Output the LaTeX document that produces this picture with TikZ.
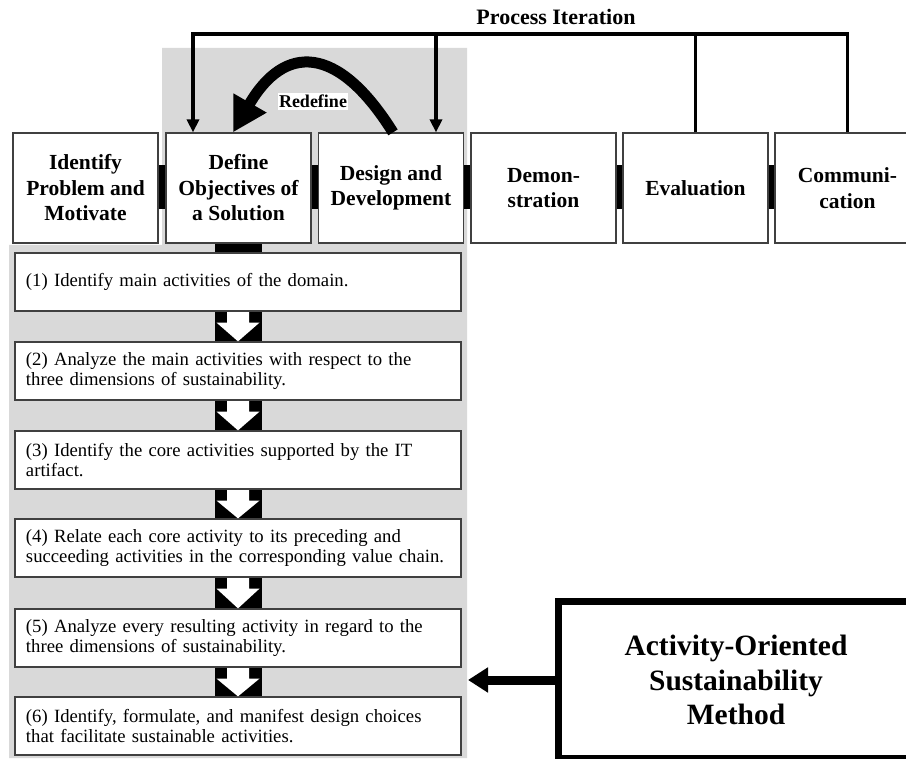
\documentclass[tikz,border=0pt]{standalone}
\usepackage{fontspec}
\setmainfont{Liberation Serif}
\usetikzlibrary{arrows.meta,calc}
\definecolor{bggray}{HTML}{D9D9D9}
\definecolor{edgegray}{HTML}{404040}
\begin{document}
\begin{tikzpicture}[x=1pt,y=-1pt,
  phase/.style={draw=edgegray, line width=1.2pt, fill=white, minimum width=145pt,
    minimum height=110pt, inner sep=0pt, align=center,
    font=\fontsize{21.5}{25.5}\selectfont\bfseries},
  stepbox/.style={draw=edgegray, line width=1.2pt, fill=white, minimum width=446pt,
    minimum height=58pt, inner xsep=11pt, inner ysep=0pt, text width=424pt,
    align=left, font=\fontsize{18.7}{20}\selectfont},
  iter/.style={line width=3.5pt},
  iterarrow/.style={iter, -{Triangle[length=13pt,width=12pt]}},
]
\useasboundingbox (0,0) rectangle (906,759);
\clip (0,0) rectangle (906,759);

% gray background region
\fill[bggray] (162,48) -- (467,48) -- (467,758) -- (9,758) -- (9,245) -- (162,245) -- cycle;

% phase boxes
\node[phase] (idp) at (85.5,188) {Identify\\Problem and\\Motivate};
\node[phase] (def) at (238.5,188) {Define\\Objectives of\\a Solution};
\node[phase] (des) at (391,188) {Design and\\Development};
\node[phase] (dem) at (543.5,188) {Demon-\\stration};
\node[phase] (eva) at (695.5,188) {Evaluation};
\node[phase] (com) at (847.5,188) {Communi-\\cation};

\foreach \a/\b in {idp/def,def/des,des/dem,dem/eva,eva/com}
  \fill ($(\a.east)+(0,-23)$) rectangle ($(\b.west)+(0,21)$);

% step boxes
\node[stepbox] (s1) at (238,282) {\mbox{(1) Identify main activities of the domain.}};
\node[stepbox] (s2) at (238,371) {\mbox{(2) Analyze the main activities with respect to the}\\\mbox{three dimensions of sustainability.}};
\node[stepbox] (s3) at (238,460) {\mbox{(3) Identify the core activities supported by the IT}\\\mbox{artifact.}};
\node[stepbox] (s4) at (238,548) {\mbox{(4) Relate each core activity to its preceding and}\\\mbox{succeeding activities in the corresponding value chain.}};
\node[stepbox] (s5) at (238,638) {\mbox{(5) Analyze every resulting activity in regard to the}\\\mbox{three dimensions of sustainability.}};
\node[stepbox] (s6) at (238,726) {\mbox{(6) Identify, formulate, and manifest design choices}\\\mbox{that facilitate sustainable activities.}};

\fill ($(def.south)+(-23.5,0)$) rectangle ($(s1.north)+(23.5,0)$);

\foreach \a/\b in {s1/s2,s2/s3,s3/s4,s4/s5,s5/s6}{
  \fill ($(\a.south)+(-23.5,0)$) rectangle ($(\b.north)+(23.5,0)$);
  \fill[white] ($(\a.south)+(-11,0.6)$) -- ($(\a.south)+(11,0.6)$) -- ($(\a.south)+(11,11)$)
    -- ($(\a.south)+(21.5,11)$) -- (\b.north) -- ($(\a.south)+(-21.5,11)$)
    -- ($(\a.south)+(-11,11)$) -- cycle;
}

% process iteration
\node[font=\bfseries\fontsize{22}{26}\selectfont] (pit) at (556,17) {Process Iteration};
\coordinate (pL) at (193,34);
\coordinate (pD) at (436,34);
\draw[iterarrow] (eva.north) |- (pL) -- (pL |- def.north);
\draw[iter] (com.north) |- (eva.north |- pL);
\draw[iterarrow] (pD) -- (pD |- des.north);

% redefine
\draw[line width=11pt, -{Triangle[length=34pt,width=36pt]}]
  ($(des.north)+(2,0)$) .. controls (337.7,43.7) and (284.3,43.7) .. ($(def.north)+(-5.5,0)$);
\node[fill=white, inner xsep=1pt, inner ysep=2.5pt, font=\bfseries\fontsize{18}{20}\selectfont]
  (redef) at (313,101.5) {Redefine};

% method box
\node[draw, line width=7pt, fill=white, minimum width=356pt, minimum height=157pt,
  align=center, font=\bfseries\fontsize{29.5}{34.5}\selectfont]
  (aosm) at (736,680) {Activity-Oriented\\Sustainability\\Method};
\coordinate (gr) at (468,680);
\draw[line width=9pt, -{Triangle[length=20pt,width=24pt]}] (aosm.west) -- (gr);
\end{tikzpicture}
\end{document}
